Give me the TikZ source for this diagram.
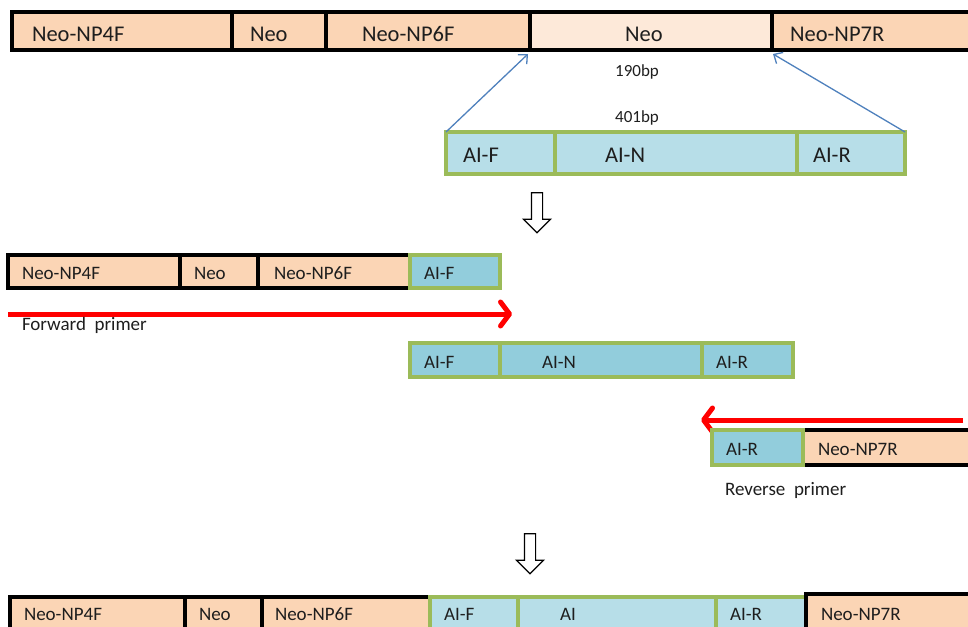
\documentclass[tikz,border=0pt]{standalone}
\usepackage{fontspec}
\setmainfont{Carlito}
\usetikzlibrary{arrows.meta,shapes.arrows}
\definecolor{peach}{RGB}{251,213,181}
\definecolor{peachlt}{RGB}{253,233,217}
\definecolor{ailt}{RGB}{183,222,232}
\definecolor{aidk}{RGB}{146,205,220}
\definecolor{aigreen}{RGB}{155,187,89}
\definecolor{linkblue}{RGB}{79,129,189}
\definecolor{txt}{RGB}{30,30,30}
\tikzset{
  seg/.style={rectangle,inner sep=0pt,outer sep=0pt,anchor=west,line width=3.5pt},
  neo/.style={seg,draw=black,fill=peach},
  neolt/.style={seg,draw=black,fill=peachlt},
  ai/.style={seg,draw=aigreen,fill=ailt},
  aidark/.style={seg,draw=aigreen,fill=aidk},
  lbl/.style={inner sep=0pt,outer sep=0pt,anchor=west,text=txt},
  big/.style={lbl,font=\fontsize{22.5}{27}\selectfont},
  small/.style={lbl,font=\fontsize{19}{23}\selectfont},
  bp/.style={inner sep=0pt,text=txt,font=\fontsize{17}{20}\selectfont},
  link/.style={draw=linkblue,line width=1.3pt,-{Straight Barb[length=7pt,width=13pt]}},
  primer/.style={draw=red,line width=5pt,-{Straight Barb[length=9pt,width=24pt,round]}},
  down/.style={single arrow,draw=black,fill=white,line width=1.2pt,shape border rotate=270,
    minimum height=40pt,inner sep=5pt,single arrow head extend=8pt}
}
\begin{document}
\begin{tikzpicture}[x=1pt,y=-1pt]
\path[use as bounding box,fill=white] (0,0) rectangle (968,626);
% construct
\node[neo,minimum width=220,minimum height=38] (tA) at (12,31) {};
\node[neo,minimum width=94,minimum height=38] (tB) at (tA.east) {};
\node[neo,minimum width=204,minimum height=38] (tC) at (tB.east) {};
\node[neolt,minimum width=242,minimum height=38] (tD) at (tC.east) {};
\node[neo,minimum width=210,minimum height=38] (tE) at (tD.east) {};
\node[big] (tAl) at ([xshift=20,yshift=-3]tA.west) {Neo-NP4F};
\node[big] (tBl) at ([xshift=18,yshift=-3]tB.west) {Neo};
\node[big] (tCl) at ([xshift=36,yshift=-3]tC.west) {Neo-NP6F};
\node[big] (tDl) at ([xshift=95,yshift=-3]tD.west) {Neo};
\node[big] (tEl) at ([xshift=18,yshift=-3]tE.west) {Neo-NP7R};
% insert
\node[ai,minimum width=109,minimum height=42] (aA) at (446,153) {};
\node[ai,minimum width=242,minimum height=42] (aB) at (aA.east) {};
\node[ai,minimum width=108,minimum height=42] (aC) at (aB.east) {};
\node[big] (aAl) at ([xshift=17,yshift=-2]aA.west) {AI-F};
\node[big] (aBl) at ([xshift=50,yshift=-2]aB.west) {AI-N};
\node[big] (aCl) at ([xshift=16,yshift=-2]aC.west) {AI-R};
\draw[link] (aA.north west) -- ([xshift=-2,yshift=-4]tD.south west);
\draw[link] (aC.north east) -- ([xshift=1,yshift=-4]tD.south east);
\node[bp] (bpA) at (637,72) {190bp};
\node[bp] (bpB) at (637,118) {401bp};
\node[down] (dnA) at (537,210) {};
% forward fragment
\node[neo,minimum width=172,minimum height=33] (fA) at (8,271.5) {};
\node[neo,minimum width=78,minimum height=33] (fB) at (fA.east) {};
\node[neo,minimum width=152,minimum height=33] (fC) at (fB.east) {};
\node[aidark,minimum width=90,minimum height=33] (fD) at (fC.east) {};
\node[small] (fAl) at ([xshift=14,yshift=-2]fA.west) {Neo-NP4F};
\node[small] (fBl) at ([xshift=14,yshift=-2]fB.west) {Neo};
\node[small] (fCl) at ([xshift=16,yshift=-2]fC.west) {Neo-NP6F};
\node[small] (fDl) at ([xshift=14,yshift=-2]fD.west) {AI-F};
\coordinate (fwdS) at (8,314);
\coordinate (fwdE) at (512,314);
\draw[primer] (fwdS) -- (fwdE);
\node[small] (fwdL) at (22,325) {Forward\ \ primer};
% template
\node[aidark,minimum width=90,minimum height=34] (mA) at (410,360) {};
\node[aidark,minimum width=202,minimum height=34] (mB) at (mA.east) {};
\node[aidark,minimum width=91,minimum height=34] (mC) at (mB.east) {};
\node[small] (mAl) at ([xshift=14,yshift=-2]mA.west) {AI-F};
\node[small] (mBl) at ([xshift=42,yshift=-2]mB.west) {AI-N};
\node[small] (mCl) at ([xshift=14,yshift=-2]mC.west) {AI-R};
% reverse fragment
\coordinate (revS) at (963,420);
\coordinate (revE) at (701,420);
\draw[primer] (revS) -- (revE);
\node[neo,minimum width=175,minimum height=35] (rB) at (803,447.5) {};
\node[aidark,minimum width=91,minimum height=35] (rA) at (712,447.5) {};
\node[small] (rAl) at ([xshift=14,yshift=-2]rA.west) {AI-R};
\node[small] (rBl) at ([xshift=15,yshift=-2]rB.west) {Neo-NP7R};
\node[small] (revL) at (725,490) {Reverse\ \ primer};
\node[down] (dnB) at (530,551) {};
% product
\node[neo,minimum width=175,minimum height=43] (pA) at (10,618.5) {};
\node[neo,minimum width=77,minimum height=43] (pB) at (pA.east) {};
\node[neo,minimum width=168,minimum height=43] (pC) at (pB.east) {};
\node[ai,minimum width=88,minimum height=43] (pD) at (pC.east) {};
\node[ai,minimum width=198,minimum height=43] (pE) at (pD.east) {};
\node[ai,minimum width=90,minimum height=43] (pF) at (pE.east) {};
\node[neo,minimum width=175,minimum height=46] (pG) at ([yshift=1.5]pF.east) {};
\node[small] (pAl) at ([xshift=14,yshift=4]pA.west) {Neo-NP4F};
\node[small] (pBl) at ([xshift=14,yshift=4]pB.west) {Neo};
\node[small] (pCl) at ([xshift=13,yshift=4]pC.west) {Neo-NP6F};
\node[small] (pDl) at ([xshift=14,yshift=4]pD.west) {AI-F};
\node[small] (pEl) at ([xshift=42,yshift=4]pE.west) {AI};
\node[small] (pFl) at ([xshift=14,yshift=4]pF.west) {AI-R};
\node[small] (pGl) at ([xshift=15,yshift=3]pG.west) {Neo-NP7R};
\end{tikzpicture}
\end{document}
